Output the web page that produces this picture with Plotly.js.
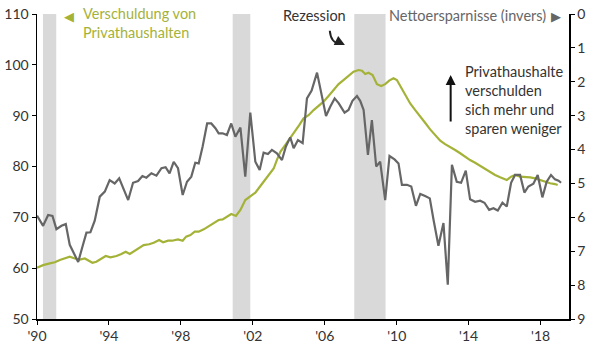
<!DOCTYPE html>
<html>
<head>
<meta charset="utf-8">
<script src="https://cdn.plot.ly/plotly-3.0.1.min.js"></script>
<style>html,body{margin:0;padding:0;background:#fff}#chart{width:600px;height:357px}</style>
</head>
<body>
<div id="chart"></div>
<script>
// Household debt (left axis)
const debtX = [1990.0,1990.34,1990.71,1990.99,1991.27,1991.55,1991.82,1992.1,1992.38,1992.66,1992.84,1993.08,1993.3,1993.58,1993.82,1994.08,1994.42,1994.69,1994.93,1995.16,1995.43,1995.71,1995.93,1996.23,1996.49,1996.79,1997.01,1997.29,1997.51,1997.84,1998.1,1998.29,1998.53,1998.77,1998.99,1999.27,1999.55,1999.82,2000.1,2000.32,2000.56,2000.8,2001.06,2001.31,2001.58,2001.86,2002.14,2002.42,2002.69,2002.97,2003.16,2003.34,2003.53,2003.8,2004.08,2004.36,2004.58,2004.82,2005.1,2005.38,2005.66,2005.93,2006.21,2006.49,2006.77,2007.04,2007.32,2007.6,2007.88,2008.07,2008.25,2008.43,2008.66,2008.9,2009.14,2009.36,2009.58,2009.82,2010.01,2010.25,2010.47,2010.75,2011.03,2011.31,2011.58,2011.86,2012.14,2012.42,2012.69,2012.97,2013.25,2013.53,2013.81,2014.08,2014.36,2014.64,2014.92,2015.19,2015.47,2015.75,2016.12,2016.36,2016.58,2016.86,2017.14,2017.42,2017.69,2017.97,2018.25,2018.53,2018.8,2018.95];
const debtY = [60.1,60.6,60.95,61.15,61.6,61.9,62.25,61.9,61.7,61.9,61.6,61.07,61.27,61.9,62.4,62.13,62.4,62.8,63.24,62.8,63.44,64.0,64.55,64.7,65.0,65.54,65.1,65.4,65.4,65.67,65.4,66.2,66.5,67.17,67.17,67.64,68.3,68.94,69.47,69.6,70.1,70.65,70.26,71.44,73.4,74.2,74.85,76.16,77.47,78.8,79.6,81.3,82.9,84.2,85.55,86.9,88.16,89.47,90.1,91.1,91.9,92.75,93.87,95.05,96.2,97.0,97.8,98.65,98.98,98.85,98.2,98.45,98.0,96.2,95.83,96.2,96.9,97.35,97.0,95.57,94.06,92.4,91.1,89.93,88.6,87.3,86.2,85.07,84.4,83.9,83.24,82.6,81.9,81.27,80.74,80.1,79.45,78.8,78.33,77.87,77.34,78.0,78.33,78.0,78.0,77.87,77.67,77.34,77.0,76.7,76.55,76.36];

// Net savings, inverted (right axis)
const saveX = [1990.0,1990.34,1990.62,1990.86,1991.08,1991.36,1991.6,1991.82,1992.05,1992.29,1992.53,1992.75,1992.97,1993.21,1993.49,1993.77,1994.04,1994.32,1994.57,1994.82,1995.07,1995.34,1995.62,1995.86,1996.08,1996.36,1996.64,1996.92,1997.15,1997.37,1997.6,1997.84,1998.1,1998.34,1998.58,1998.8,1998.99,1999.21,1999.46,1999.69,1999.92,2000.1,2000.32,2000.56,2000.8,2001.03,2001.31,2001.58,2001.86,2002.14,2002.38,2002.6,2002.84,2003.06,2003.34,2003.62,2003.84,2004.08,2004.27,2004.51,2004.77,2005.01,2005.27,2005.57,2005.8,2006.07,2006.31,2006.55,2006.77,2007.1,2007.32,2007.54,2007.79,2007.97,2008.16,2008.4,2008.62,2008.86,2009.08,2009.36,2009.6,2009.88,2010.1,2010.29,2010.57,2010.81,2011.07,2011.31,2011.58,2011.84,2012.05,2012.32,2012.6,2012.84,2013.07,2013.34,2013.58,2013.84,2014.08,2014.36,2014.64,2014.88,2015.14,2015.38,2015.62,2015.88,2016.12,2016.36,2016.58,2016.86,2017.1,2017.32,2017.6,2017.84,2018.1,2018.34,2018.58,2018.8,2019.0,2019.14];
const saveY = [5.95,6.25,5.93,5.96,6.35,6.25,6.2,6.81,7.06,7.32,6.86,6.45,6.44,6.1,5.39,5.24,4.9,5.0,4.85,5.19,5.49,4.98,4.93,4.78,4.83,4.7,4.77,4.55,4.52,4.7,4.36,4.55,5.34,4.95,4.8,4.39,4.41,3.91,3.23,3.23,3.37,3.52,3.52,3.57,3.23,3.62,3.35,4.8,2.91,4.36,4.6,4.09,4.13,4.01,4.11,4.31,3.91,3.64,3.96,3.72,3.81,2.49,2.26,1.73,2.34,3.01,2.73,2.49,2.63,2.91,2.83,2.56,2.42,2.56,2.83,4.16,3.13,4.5,4.36,5.49,4.19,4.29,4.41,5.04,5.04,5.09,5.66,5.31,5.37,5.44,6.08,6.84,6.17,7.99,4.45,4.95,4.98,4.62,5.47,5.54,5.51,5.57,5.78,5.73,5.8,5.57,5.68,4.98,4.75,4.75,5.27,5.09,5.01,4.75,5.41,4.95,4.75,4.88,4.92,4.98];

// Recessions
const recStart = [1990.33, 2000.88, 2007.64];
const recEnd = [1991.07, 2001.86, 2009.38];

// Axis ticks
const xTickVals = [1990,1994,1998,2002,2006,2010,2014,2018];
const xTickText = ["'90","'94","'98","'02","'06","'10","'14","'18"];

const FONT = 'Lato, "Open Sans", sans-serif';
const GREEN = '#a5b238';
const GREY = '#666666';

const traces = [
  {x: debtX, y: debtY, type: 'scatter', mode: 'lines', yaxis: 'y',
   line: {color: GREEN, width: 2.2}, hoverinfo: 'skip'},
  {x: saveX, y: saveY, type: 'scatter', mode: 'lines', yaxis: 'y2',
   line: {color: GREY, width: 2.2}, hoverinfo: 'skip'}
];

const shapes = recStart.map((s, i) => ({
  type: 'rect', xref: 'x', yref: 'paper', x0: s, x1: recEnd[i], y0: 0, y1: 1,
  fillcolor: '#d9d9d9', line: {width: 0}, layer: 'below'
}));
// curved hook of the "Rezession" pointer
shapes.push({type: 'path', xref: 'x', yref: 'y', layer: 'above',
  path: 'M 2006.28,106.7 Q 2006.34,104.3 2006.85,104.1',
  line: {color: '#222222', width: 2}});

const annotations = [
  {xref: 'x', yref: 'y', x: 1991.78, y: 109.6, text: '◀', showarrow: false,
   font: {family: 'DejaVu Sans', size: 13, color: GREEN}},
  {xref: 'x', yref: 'y', x: 1992.45, y: 108.2, xanchor: 'left', yanchor: 'middle', align: 'left',
   text: 'Verschuldung von<br>Privathaushalten', showarrow: false,
   font: {family: FONT, size: 14.5, color: GREEN}},
  {xref: 'x', yref: 'y', x: 2005.42, y: 109.7, text: 'Rezession', showarrow: false,
   font: {family: FONT, size: 14.5, color: '#333333'}},
  {xref: 'x', yref: 'y', x: 2007.12, y: 103.9, ax: -6, ay: -3, text: '', showarrow: true,
   arrowhead: 2, arrowsize: 1, arrowwidth: 2, arrowcolor: '#222222'},
  {xref: 'x', yref: 'y', x: 2018.4, y: 109.7, xanchor: 'right', text: 'Nettoersparnisse (invers)', showarrow: false,
   font: {family: FONT, size: 14.5, color: GREY}},
  {xref: 'x', yref: 'y', x: 2018.85, y: 109.6, text: '▶', showarrow: false,
   font: {family: 'DejaVu Sans', size: 13, color: GREY}},
  {xref: 'x', yref: 'y', x: 2013.69, y: 93.0, xanchor: 'left', yanchor: 'middle', align: 'left',
   text: 'Privathaushalte<br>verschulden<br>sich mehr und<br>sparen weniger', showarrow: false,
   font: {family: FONT, size: 14.5, color: '#333333'}},
  {xref: 'x', yref: 'y', x: 2013.0, y: 98.0, ax: 0, ay: 48, text: '', showarrow: true,
   arrowhead: 2, arrowsize: 1, arrowwidth: 2, arrowcolor: '#111111'}
];

const axisCommon = {
  showgrid: false, zeroline: false, showline: true, linecolor: '#000000', linewidth: 1.5,
  ticks: 'outside', ticklen: 4, tickcolor: '#000000', tickwidth: 1,
  tickfont: {family: FONT, size: 14, color: '#333333'}
};

const layout = {
  width: 600, height: 357,
  margin: {l: 36.5, r: 31, t: 14, b: 38},
  paper_bgcolor: '#ffffff', plot_bgcolor: '#ffffff',
  showlegend: false,
  xaxis: Object.assign({}, axisCommon, {range: [1990, 2019.58], tickvals: xTickVals, ticktext: xTickText}),
  yaxis: Object.assign({}, axisCommon, {range: [50, 110], dtick: 10, tick0: 50}),
  yaxis2: Object.assign({}, axisCommon, {range: [9, 0], dtick: 1, tick0: 0, overlaying: 'y', side: 'right'}),
  shapes: shapes,
  annotations: annotations
};

Plotly.newPlot('chart', traces, layout, {staticPlot: true, displayModeBar: false});
</script>
</body>
</html>
